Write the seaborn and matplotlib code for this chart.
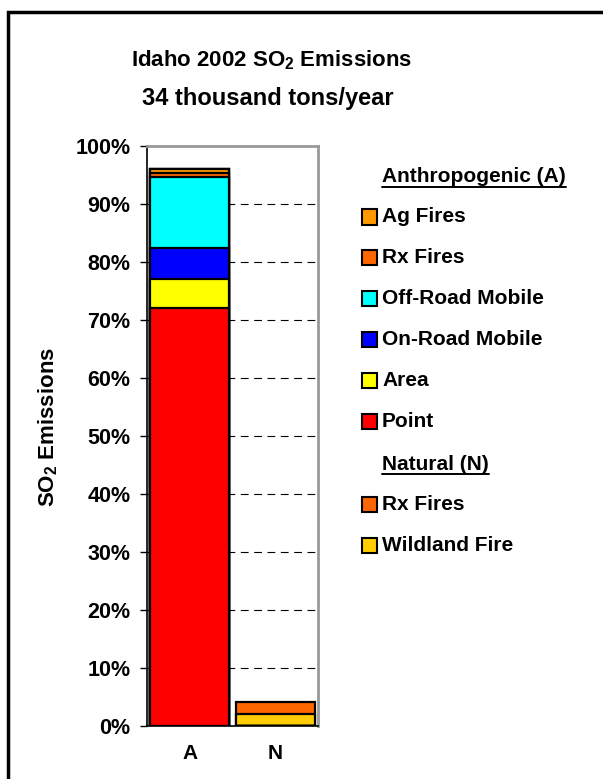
import numpy as np
import pandas as pd
import matplotlib
matplotlib.use("Agg")
import matplotlib.pyplot as plt
import seaborn as sns
from matplotlib.patches import Rectangle

# Data (percent of total SO2 emissions)
bars = ["A", "N"]
layers = ["Point", "Area", "On-Road Mobile", "Off-Road Mobile", "Rx Fires (A)", "Ag Fires",
          "Wildland Fire", "Rx Fires (N)"]
values_A = [72.0, 5.1, 5.4, 12.1, 0.8, 0.6, 0.0, 0.0]
values_N = [0.0, 0.0, 0.0, 0.0, 0.0, 0.0, 2.1, 2.0]
layer_colors = ["#FF0000", "#FFFF00", "#0000FF", "#00FFFF", "#FF6600", "#FF9900",
                "#FFCC00", "#FF6600"]

legend_anthro = ["Ag Fires", "Rx Fires", "Off-Road Mobile", "On-Road Mobile", "Area", "Point"]
legend_anthro_colors = ["#FF9900", "#FF6600", "#00FFFF", "#0000FF", "#FFFF00", "#FF0000"]
legend_natural = ["Rx Fires", "Wildland Fire"]
legend_natural_colors = ["#FF6600", "#FFCC00"]

sns.set_style("white")
plt.rcParams['font.family'] = ['Liberation Sans', 'DejaVu Sans']
plt.rcParams['mathtext.fontset'] = 'custom'
plt.rcParams['mathtext.rm'] = 'Liberation Sans:bold'
plt.rcParams['mathtext.bf'] = 'Liberation Sans:bold'
for k in ['text.color', 'axes.labelcolor', 'xtick.color', 'ytick.color']:
    plt.rcParams[k] = 'black'

cum_A = np.cumsum(values_A)
cum_N = np.cumsum(values_N)
df = pd.DataFrame({"layer": np.repeat(layers, 2),
                   "bar": bars * len(layers),
                   "cum": np.ravel(np.column_stack([cum_A, cum_N]))})

fig = plt.figure(figsize=(6.03, 7.79), dpi=100)
ax = fig.add_axes([147 / 603, 1 - 726 / 779, 171 / 603, 580 / 779])

# stacked bars by overlapping cumulative totals, top layer first
for lay, col in reversed(list(zip(layers, layer_colors))):
    sub = df[df["layer"] == lay]
    sns.barplot(data=sub, x="bar", y="cum", color=col, saturation=1, width=0.92,
                edgecolor="black", linewidth=1.6, order=bars, ax=ax, zorder=3)

ax.set_xlim(-0.5, 1.5)
ax.set_ylim(0, 100)
ax.set_yticks(np.arange(0, 101, 10))
ax.set_yticklabels([f"{v}%" for v in range(0, 101, 10)], fontsize=15.5, fontweight="bold")
ax.set_xticks([0, 1])
ax.set_xticklabels(bars, fontsize=15, fontweight="bold")
ax.set_xticks([-0.5, 0.5, 1.5], minor=True)
ax.tick_params(axis="x", which="major", length=0, pad=13)
ax.tick_params(axis="x", which="minor", length=5, direction="out", width=1, color="black")
ax.tick_params(axis="y", length=5, direction="out", width=1, color="black", pad=7, left=True)
for y in range(10, 100, 10):
    ax.axhline(y, color="black", linestyle=(0, (7, 5)), linewidth=0.8, zorder=1)
for s in ["left", "bottom"]:
    ax.spines[s].set_color("black")
    ax.spines[s].set_linewidth(1.2)
for s in ["top", "right"]:
    ax.spines[s].set_color("#999999")
    ax.spines[s].set_linewidth(2)
ax.set_xlabel("")
ax.set_ylabel(r"SO$_{\mathbf{2}}$ Emissions", fontsize=16, fontweight="bold")
ax.yaxis.set_label_coords((60 - 147) / 171, (726 - 427) / 580)

fig.text(272 / 603, 1 - 60 / 779, r"Idaho 2002 SO$_{\mathbf{2}}$ Emissions", ha="center",
         va="center", fontsize=16, fontweight="bold")
fig.text(268 / 603, 1 - 98 / 779, "34 thousand tons/year", ha="center", va="center",
         fontsize=17, fontweight="bold")

# legend with group headers
LEG_FS = 15

def header(y, txt):
    t = fig.text(382 / 603, 1 - y / 779, txt, ha="left", va="center", fontsize=LEG_FS,
                 fontweight="bold")
    fig.canvas.draw()
    bb = t.get_window_extent().transformed(fig.transFigure.inverted())
    fig.add_artist(plt.Line2D([bb.x0, bb.x1], [bb.y0 - 0.001, bb.y0 - 0.001],
                              transform=fig.transFigure, color="black", linewidth=1.4))

def entry(y, txt, col):
    fig.add_artist(Rectangle((362 / 603, 1 - (y + 7.5) / 779), 15 / 603, 15 / 779,
                             transform=fig.transFigure, facecolor=col, edgecolor="black",
                             linewidth=1.5))
    fig.text(382 / 603, 1 - y / 779, txt, ha="left", va="center", fontsize=LEG_FS,
             fontweight="bold")

header(177, "Anthropogenic (A)")
for i, (lab, col) in enumerate(zip(legend_anthro, legend_anthro_colors)):
    entry(217 + i * 40.8, lab, col)
header(464, "Natural (N)")
for i, (lab, col) in enumerate(zip(legend_natural, legend_natural_colors)):
    entry(504 + i * 41.5, lab, col)

# outer frame
fig.add_artist(Rectangle((7.5 / 603, -0.05), 1.1, 1 - 11.5 / 779 + 0.05,
                         transform=fig.transFigure, fill=False, edgecolor="black",
                         linewidth=2.5))

fig.savefig("out.png", dpi=100)
